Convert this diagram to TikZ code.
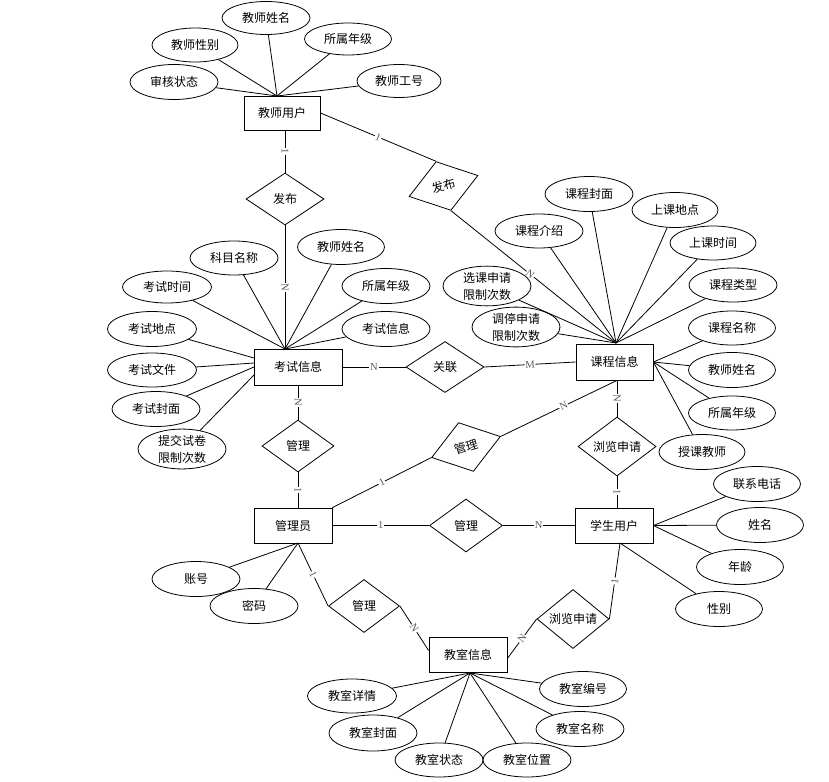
\documentclass[tikz,border=0pt]{standalone}
\usepackage{fontspec}
\setmainfont{Liberation Serif}
\newfontfamily\cjk{Noto Sans CJK SC}
\usetikzlibrary{shapes.geometric}
\begin{document}
\begin{tikzpicture}[x=1pt,y=-1pt,line width=0.8pt,
  ent/.style={draw,rectangle,minimum width=77pt,minimum height=35pt,inner sep=0pt,fill=white,font=\cjk\fontsize{12}{14}\selectfont},
  rel/.style={draw,diamond,minimum width=76pt,minimum height=52pt,inner sep=0pt,fill=white,font=\cjk\fontsize{12}{14}\selectfont},
  attr/.style={draw,ellipse,minimum width=87pt,minimum height=34pt,inner sep=0pt,fill=white,align=center,font=\cjk\fontsize{12}{17}\selectfont},
  card/.style={font=\fontsize{10.5}{10.5}\selectfont,text=black!65,fill=white,inner sep=0.8pt,sloped}
]
\useasboundingbox[fill=white] (0,0) rectangle (829,781);

% entities
\node[ent,minimum width=76pt,minimum height=34pt] (teacher) at (282,113) {教师用户};
\node[ent,minimum width=88pt,minimum height=36pt] (exam) at (298,367) {考试信息};
\node[ent,minimum height=36pt] (course) at (614.5,362) {课程信息};
\node[ent,minimum width=78pt] (admin) at (293,525.5) {管理员};
\node[ent,minimum width=78pt] (stu) at (614,525.5) {学生用户};
\node[ent,minimum width=78pt] (room) at (468,654.5) {教室信息};

% relations
\node[rel,minimum width=78pt] (fb1) at (285,199) {发布};
\node[rel,minimum width=72pt,minimum height=51pt,rotate=17] (fb2) at (443.5,186) {发布};
\node[rel,minimum width=78pt,minimum height=51pt] (gl) at (445,367) {关联};
\node[rel,minimum width=72pt] (m1) at (298,446) {管理};
\node[rel,minimum width=72pt,minimum height=51pt,rotate=17] (m2) at (466,447) {管理};
\node[rel,minimum width=78pt,minimum height=51pt] (lb1) at (617,446.5) {浏览申请};
\node[rel,minimum width=73pt,minimum height=53pt] (m3) at (466,525.5) {管理};
\node[rel,minimum width=71pt,minimum height=53pt] (m4) at (364,606) {管理};
\node[rel,minimum width=72pt] (lb2) at (573,619) {浏览申请};

% anchor points
\coordinate (ttop) at (277,96);
\coordinate (examtop) at (285,349);
\coordinate (exl1) at (254,358);
\coordinate (exl2) at (254,363);
\coordinate (exl3) at (254,367);
\coordinate (exl4) at (254,375);
\coordinate (ctop) at (616,343);
\coordinate (admbot) at (298,543);
\coordinate (stubot) at (620,543);
\coordinate (roombot) at (470,673);

% relationship connectors
\draw (fb1.north |- teacher.south) -- node[card]{1} (fb1.north);
\draw (teacher.east) -- node[card]{1} (fb2.north);
\draw (fb2.south) -- node[card,pos=0.48]{N} (ctop);
\draw (fb1.south) -- node[card]{N} (examtop);
\draw (exam.east) -- node[card]{N} (gl.west);
\draw (gl.east) -- node[card]{M} (course.west);
\draw (exam.south) -- node[card]{N} (m1.north);
\draw (m1.south) -- node[card]{1} (admin.north -| m1.south);
\draw (admin.north east) -- node[card]{1} (m2.west);
\draw (m2.east) -- node[card,pos=0.54]{N} (lb1.north |- course.south);
\draw (lb1.north |- course.south) -- node[card]{N} (lb1.north);
\draw (lb1.south) -- node[card]{1} (lb1.south |- stu.north);
\draw (admin.east) -- node[card]{1} (m3.west);
\draw (m3.east) -- node[card]{N} (stu.west);
\draw (admbot) -- node[card]{1} (m4.west);
\draw (m4.east) -- node[card]{N} ([yshift=4pt]room.west);
\draw ([yshift=-4pt]room.east) -- node[card]{N} (lb2.west);
\draw (lb2.east) -- node[card]{1} (stubot);

% teacher attributes
\node[attr,minimum width=88pt,minimum height=35pt] (t1) at (174,82) {审核状态};
\node[attr,minimum width=86pt] (t2) at (195,45) {教师性别};
\node[attr,minimum width=88pt,minimum height=33pt] (t3) at (266,18) {教师姓名};
\node[attr,minimum height=32pt] (t4) at (348,39) {所属年级};
\node[attr,minimum width=84pt,minimum height=33pt] (t5) at (399,81) {教师工号};
\foreach \a in {t1,t2,t3,t4,t5} \draw (ttop) -- (\a);

% exam attributes
\node[attr,minimum width=88pt] (e1) at (234,258) {科目名称};
\node[attr,minimum height=35pt] (e2) at (341,247) {教师姓名};
\node[attr,minimum width=88pt,minimum height=35pt] (e3) at (386,286) {所属年级};
\node[attr,minimum width=88pt,minimum height=35pt] (e4) at (386,329) {考试信息};
\node[attr,minimum width=89pt,minimum height=32pt] (e5) at (167,287) {考试时间};
\node[attr,minimum width=89pt,minimum height=35pt] (e6) at (152,329) {考试地点};
\node[attr,minimum width=89pt] (e7) at (152,370) {考试文件};
\node[attr,minimum width=88pt,minimum height=35pt] (e8) at (156,409) {考试封面};
\node[attr,minimum width=88pt,minimum height=38pt] (e9) at (182,449) {提交试卷\\限制次数};
\foreach \a in {e1,e2,e3,e4,e5} \draw (examtop) -- (\a);
\draw (exl1) -- (e6);
\draw (exl2) -- (e7);
\draw (exl3) -- (e8);
\draw (exl4) -- (e9);

% course attributes
\node[attr,minimum width=88pt,minimum height=35pt] (c1) at (589,194) {课程封面};
\node[attr,minimum width=86pt,minimum height=35pt] (c2) at (675,210) {上课地点};
\node[attr,minimum width=88pt] (c3) at (539,231) {课程介绍};
\node[attr,minimum width=86pt] (c4) at (713,243) {上课时间};
\node[attr,minimum width=88pt,minimum height=37pt] (c5) at (487,286) {选课申请\\限制次数};
\node[attr,minimum width=88pt] (c6) at (733,285) {课程类型};
\node[attr,minimum width=88pt,minimum height=35pt] (c7) at (516,327) {调停申请\\限制次数};
\node[attr,minimum height=34pt] (c8) at (732,328) {课程名称};
\node[attr,minimum height=35pt] (c9) at (732,370) {教师姓名};
\node[attr,minimum height=34pt] (c10) at (732,413) {所属年级};
\node[attr,minimum width=86pt,minimum height=35pt] (c11) at (702,452) {授课教师};
\foreach \a in {c1,c2,c3,c4,c5,c6,c7} \draw (ctop) -- (\a);
\foreach \a in {c8,c9,c10,c11} \draw (course.east) -- (\a);

% admin attributes
\node[attr,minimum width=88pt,minimum height=35pt] (a1) at (196,579) {账号};
\node[attr,minimum width=88pt,minimum height=35pt] (a2) at (254,606) {密码};
\draw (admbot) -- (a1);
\draw (admbot) -- (a2);

% student attributes
\node[attr,minimum height=35pt] (s1) at (757,484) {联系电话};
\node[attr,minimum height=35pt] (s2) at (760,525) {姓名};
\node[attr,minimum height=35pt] (s3) at (740,567) {年龄};
\node[attr,minimum height=35pt] (s4) at (719,609) {性别};
\draw (stu.east) -- (s1);
\draw (stu.east) -- (s2);
\draw (stu.east) -- (s3);
\draw (stubot) -- (s4);

% room attributes
\node[attr,minimum width=89pt] (r1) at (352,696) {教室详情};
\node[attr,minimum width=88pt,minimum height=36pt] (r2) at (373,733) {教室封面};
\node[attr,minimum width=88pt] (r3) at (439,760) {教室状态};
\node[attr,minimum width=88pt] (r4) at (527,760) {教室位置};
\node[attr,minimum width=88pt,minimum height=35pt] (r5) at (580,729) {教室名称};
\node[attr,minimum width=87pt,minimum height=35pt] (r6) at (583,689) {教室编号};
\foreach \a in {r1,r2,r3,r4,r5,r6} \draw (roombot) -- (\a);
\end{tikzpicture}
\end{document}
